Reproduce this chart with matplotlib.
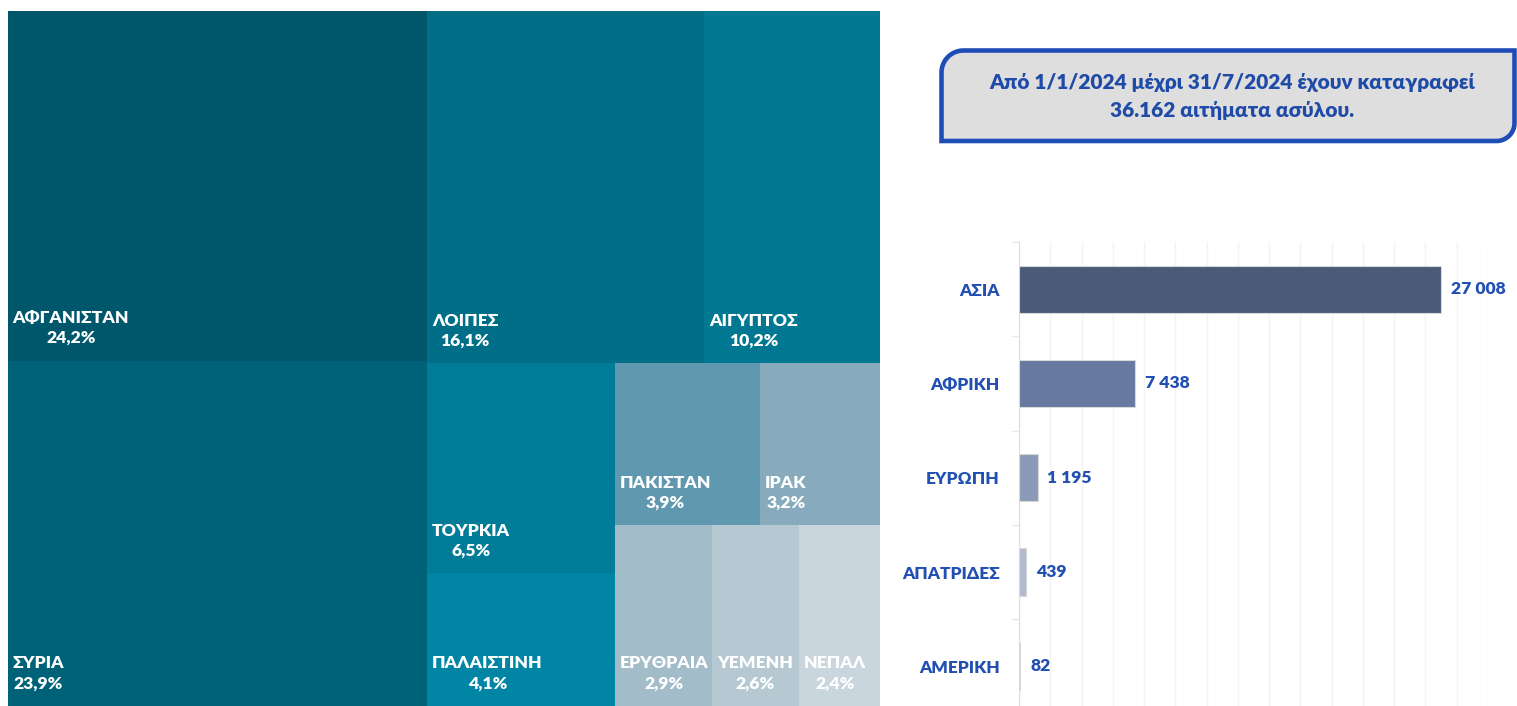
import numpy as np
import matplotlib
matplotlib.use("Agg")
import matplotlib.pyplot as plt
from matplotlib.path import Path
from matplotlib.patches import PathPatch, Rectangle

# ---------------- data ----------------
countries = ['ΑΦΓΑΝΙΣΤΑΝ', 'ΣΥΡΙΑ', 'ΛΟΙΠΕΣ', 'ΑΙΓΥΠΤΟΣ', 'ΤΟΥΡΚΙΑ', 'ΠΑΛΑΙΣΤΙΝΗ',
             'ΠΑΚΙΣΤΑΝ', 'ΙΡΑΚ', 'ΕΡΥΘΡΑΙΑ', 'ΥΕΜΕΝΗ', 'ΝΕΠΑΛ']
shares = [24.2, 23.9, 16.1, 10.2, 6.5, 4.1, 3.9, 3.2, 2.9, 2.6, 2.4]

regions = ['ΑΣΙΑ', 'ΑΦΡΙΚΗ', 'ΕΥΡΩΠΗ', 'ΑΠΑΤΡΙΔΕΣ', 'ΑΜΕΡΙΚΗ']
requests = [27008, 7438, 1195, 439, 82]

title_lines = ['Από 1/1/2024 μέχρι 31/7/2024 έχουν καταγραφεί',
               '36.162 αιτήματα ασύλου.']

# ---------------- style ----------------
tile_colors = ['#00576C', '#006279', '#006E86', '#007892', '#007C99', '#0086A4',
               '#6098B0', '#87ABBC', '#A3BCC9', '#B6C9D3', '#C9D6DE']
bar_colors = ['#4A5A78', '#66799F', '#8C9AB7', '#B1BBD0', '#D3D9E5']
blue = '#2150B2'
WEIGHT = 'heavy'
FONT = ['Lato', 'Open Sans', 'DejaVu Sans']
plt.rcParams['font.family'] = FONT

W, H = 1517, 706
fig = plt.figure(figsize=(W / 100, H / 100), dpi=100)

def px_rect(x0, y0, x1, y1):
    return [x0 / W, 1 - y1 / H, (x1 - x0) / W, (y1 - y0) / H]

# ---------------- treemap ----------------
strips = [(2, 'col'), (2, 'row'), (2, 'col'), (2, 'row'), (3, 'row')]

def strip_layout(values, strips, x0, y0, w, h):
    rects = []
    i = 0
    remaining = float(sum(values))
    for n, orient in strips:
        grp = values[i:i + n]
        s = float(sum(grp))
        frac = s / remaining
        if orient == 'col':
            sw = w * frac
            top = y0 + h
            for v in grp:
                hh = h * v / s
                rects.append((x0, top - hh, sw, hh))
                top -= hh
            x0 += sw
            w -= sw
        else:
            sh = h * frac
            xx = x0
            for v in grp:
                ww = w * v / s
                rects.append((xx, y0 + h - sh, ww, sh))
                xx += ww
            h -= sh
        remaining -= s
        i += n
    return rects

axt = fig.add_axes(px_rect(8, 11, 880, 706))
axt.set_xlim(0, 1)
axt.set_ylim(0, 1)
axt.axis('off')
rects = strip_layout(shares, strips, 0, 0, 1, 1)
for (x, y, w, h), name, val, col in zip(rects, countries, shares, tile_colors):
    axt.add_patch(Rectangle((x, y), w, h, facecolor=col, edgecolor='none'))
    label = f"{name}\n{val:.1f}%".replace('.', ',')
    axt.annotate(label, xy=(x, y), xytext=(3.3, 12.6), textcoords='offset points',
                 ha='left', va='baseline', multialignment='center',
                 color='white', fontsize=12.6, fontweight=WEIGHT, linespacing=1.32)

# ---------------- bar chart ----------------
n = len(regions)
axb = fig.add_axes([1019 / W, 1 - (242 + n * 94.3) / H, 469 / W, n * 94.3 / H])
ypos = np.arange(n)
axb.barh(ypos, requests, height=0.5, color=bar_colors, edgecolor='#D8D8D8', linewidth=0.8, zorder=3)
axb.set_xlim(0, 30000)
axb.set_ylim(n - 0.5, -0.5)
axb.set_xticks(np.arange(0, 30001, 2000))
axb.grid(axis='x', color='#F3F3F3', linewidth=1, zorder=0)
axb.tick_params(axis='x', length=0, labelbottom=False)
axb.set_yticks(ypos)
axb.set_yticklabels(regions, color=blue, fontsize=12.4, fontweight=WEIGHT)
axb.tick_params(axis='y', which='major', length=0, pad=14)
axb.set_yticks(np.arange(-0.5, n, 1), minor=True)
axb.tick_params(axis='y', which='minor', length=5, width=1, color='#E8E8E8')
for s in ['top', 'right', 'bottom']:
    axb.spines[s].set_visible(False)
axb.spines['left'].set_color('#DDDDDD')
for yi, v in zip(ypos, requests):
    axb.annotate(f"{v:,}".replace(',', ' '), xy=(v, yi), xytext=(7, 0),
                 textcoords='offset points', ha='left', va='center',
                 color=blue, fontsize=12.6, fontweight=WEIGHT)

# ---------------- title box ----------------
def box_path(x0, y0, x1, y1, r_tl, r_br, k=24):
    pts = []
    pts.append((x0 + r_tl, y0))
    pts.append((x1, y0))
    pts.append((x1, y1 - r_br))
    for t in np.linspace(0, np.pi / 2, k):
        pts.append((x1 - r_br + r_br * np.cos(t), y1 - r_br + r_br * np.sin(t)))
    pts.append((x0, y1))
    pts.append((x0, y0 + r_tl))
    for t in np.linspace(np.pi, 1.5 * np.pi, k):
        pts.append((x0 + r_tl + r_tl * np.cos(t), y0 + r_tl + r_tl * np.sin(t)))
    pts.append((x0 + r_tl, y0))
    verts = [(px / W, 1 - py / H) for px, py in pts]
    codes = [Path.MOVETO] + [Path.LINETO] * (len(verts) - 2) + [Path.CLOSEPOLY]
    return Path(verts, codes)

fig.patches.append(PathPatch(box_path(941.5, 50.5, 1514.5, 141, 22, 18),
                             transform=fig.transFigure, facecolor='#DEDEDE',
                             edgecolor='#1E4DB7', linewidth=3.3))
fig.text(1232 / W, 1 - 82 / H, title_lines[0], ha='center', va='center',
         color='#1F4BA8', fontsize=15, fontweight=WEIGHT)
fig.text(1232 / W, 1 - 111 / H, title_lines[1], ha='center', va='center',
         color='#1F4BA8', fontsize=15, fontweight=WEIGHT)

fig.savefig('out.png', dpi=100)
